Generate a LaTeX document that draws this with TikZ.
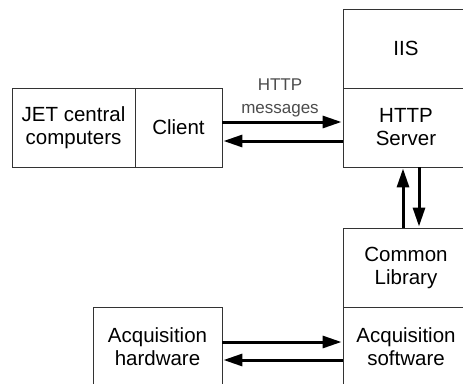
\documentclass[tikz,border=0pt]{standalone}
\usepackage{fontspec}
\setmainfont{Liberation Sans}
\usetikzlibrary{arrows.meta}
\begin{document}
\begin{tikzpicture}[x=1pt,y=-1pt,
  box/.style={draw=black!80,line width=0.9pt,rectangle,inner sep=0pt,align=center,
    minimum height=79pt,font=\fontsize{20.5}{23}\selectfont},
  arr/.style={line width=3pt,-{Triangle[length=19pt,width=12pt]},shorten >=1pt},
  lbl/.style={font=\fontsize{17}{23}\selectfont,text=black!70,align=center,inner sep=0pt}]
\useasboundingbox (0,0) rectangle (463,383);
\clip (0,0) rectangle (463,383);
\fill[white] (0,0) rectangle (463,383);
\node[box,minimum width=123pt] (jet) at (73.5,127.5) {JET central\\computers};
\node[box,minimum width=87pt] (client) at (178.5,127.5) {Client};
\node[box,minimum width=126pt] (iis) at (406,48.5) {IIS};
\node[box,minimum width=126pt] (http) at (406,127.5) {HTTP\\Server};
\node[box,minimum width=126pt] (common) at (406,267.5) {Common\\Library};
\node[box,minimum width=126pt] (acqsw) at (406,346.5) {Acquisition\\software};
\node[box,minimum width=129pt] (acqhw) at (157.5,346.5) {Acquisition\\hardware};
\node[lbl] (msg) at (280,98) {HTTP\\messages};
\draw[arr] ([yshift=5.5pt]client.east) -- ([yshift=5.5pt]http.west);
\draw[arr] ([yshift=-13.5pt]http.west) -- ([yshift=-13.5pt]client.east);
\draw[arr] ([xshift=-3pt]common.north) -- ([xshift=-3pt]http.south);
\draw[arr] ([xshift=13pt]http.south) -- ([xshift=13pt]common.north);
\draw[arr] ([yshift=4.5pt]acqhw.east) -- ([yshift=4.5pt]acqsw.west);
\draw[arr] ([yshift=-13.5pt]acqsw.west) -- ([yshift=-13.5pt]acqhw.east);
\end{tikzpicture}
\end{document}
